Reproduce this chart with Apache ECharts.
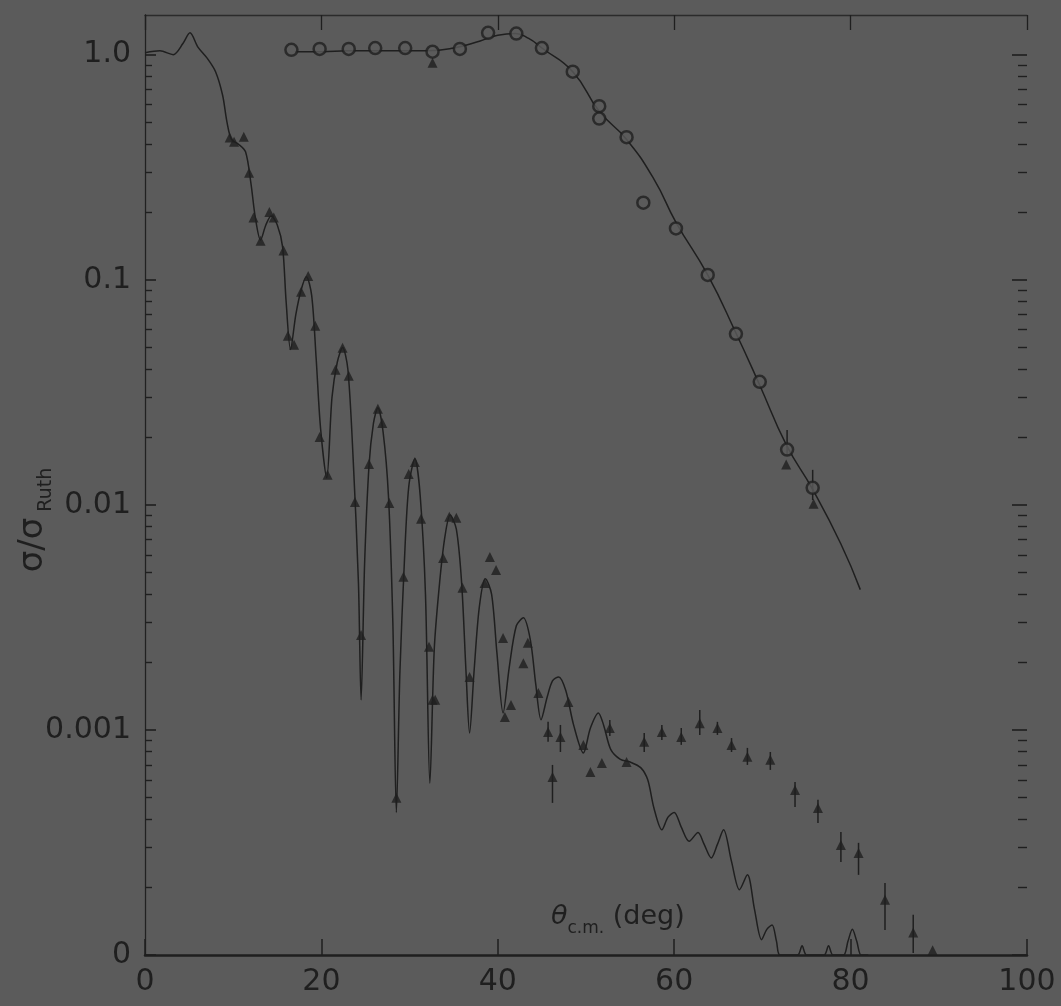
<!DOCTYPE html>
<html>
<head>
<meta charset="utf-8">
<script src="https://cdn.jsdelivr.net/npm/echarts@6/dist/echarts.min.js"></script>
<style>
  html, body { margin: 0; padding: 0; background: #5b5b5b; }
  #chart { width: 1061px; height: 1006px; }
</style>
</head>
<body>
<div id="chart"></div>
<script>
// sigma / sigma_Ruth versus centre-of-mass angle, log scale

const xTicks = [0, 20, 40, 60, 80, 100];
const yTickValues = [1e-4, 1e-3, 1e-2, 1e-1, 1];
const yTickLabels = ['0', '0.001', '0.01', '0.1', '1.0'];
const Y_MIN = 1e-4;
const Y_MAX = 1.5;

// open-circle data set [angle, ratio]
const circlePoints = [
  [16.6, 1.05], [19.8, 1.06], [23.1, 1.06], [26.1, 1.07], [29.5, 1.07],
  [32.6, 1.03], [35.7, 1.06], [38.9, 1.25], [42.1, 1.24], [45.0, 1.07],
  [48.5, 0.84], [51.5, 0.59], [51.5, 0.52], [54.6, 0.43], [56.5, 0.22],
  [60.2, 0.169], [63.8, 0.105], [67.0, 0.0575], [69.7, 0.0352],
  [72.8, 0.0176], [75.7, 0.0119]
];

// calculation through the open circles
const circleFit = [
  [17, 1.03], [20, 1.03], [23, 1.04], [26, 1.04], [29, 1.04], [32, 1.04],
  [35, 1.07], [38, 1.15], [40, 1.22], [42, 1.24], [43.5, 1.18], [45, 1.07],
  [48.5, 0.84], [51.5, 0.56], [54.6, 0.42], [57.7, 0.28], [60.2, 0.18],
  [63.8, 0.105], [67.0, 0.058], [69.7, 0.034], [72.7, 0.0185],
  [75.7, 0.0117], [78.9, 0.0067], [81.1, 0.0042]
];

const circleErrAngle = [72.8, 75.7];
const circleErrLow = [0.0167, 0.0105];
const circleErrHigh = [0.0215, 0.0143];

// filled-triangle data set [angle, ratio]
const trianglePoints = [
  [9.6, 0.428], [10.1, 0.41], [11.2, 0.432], [11.8, 0.299], [12.3, 0.189],
  [13.1, 0.149], [14.1, 0.2], [14.6, 0.189], [15.7, 0.135], [16.2, 0.0564],
  [16.9, 0.0514], [17.7, 0.0885], [18.5, 0.104], [19.3, 0.0625], [19.8, 0.020],
  [20.7, 0.0136], [21.6, 0.0398], [22.4, 0.0499], [23.1, 0.0374], [23.8, 0.0103],
  [24.5, 0.00264], [25.4, 0.0152], [26.4, 0.0267], [26.9, 0.0231], [27.7, 0.0102],
  [28.5, 0.000499], [29.3, 0.00479], [29.9, 0.0137], [30.6, 0.0155], [31.3, 0.00867],
  [32.2, 0.00234], [32.6, 0.00136], [32.9, 0.00136], [33.8, 0.00581], [34.5, 0.00885],
  [35.3, 0.00875], [36.0, 0.00428], [36.8, 0.00172], [38.5, 0.0045], [39.1, 0.00587],
  [39.8, 0.00514], [40.6, 0.00256], [40.8, 0.00114], [41.5, 0.00129], [42.9, 0.00198],
  [43.4, 0.00244], [44.6, 0.00146], [45.7, 0.00098], [46.2, 0.000618], [47.1, 0.00093],
  [48.0, 0.00133], [49.7, 0.000858], [50.5, 0.00065], [51.8, 0.000713], [52.7, 0.00102],
  [54.6, 0.000721], [56.6, 0.000885], [58.6, 0.00098], [60.8, 0.00093], [62.9, 0.00107],
  [64.9, 0.00102], [66.5, 0.000858], [68.3, 0.000759], [70.9, 0.000736], [73.7, 0.000541],
  [76.3, 0.00045], [78.9, 0.000308], [80.9, 0.000284], [83.9, 0.000176], [87.1, 0.000126],
  [89.3, 0.000105]
];

// other filled points near the open circles
const extraFilled = [[32.6, 0.92], [72.7, 0.0151], [75.8, 0.0101]];

const triangleErrAngle = [45.7, 46.2, 47.1, 52.7, 56.6, 58.6, 60.8, 62.9, 64.9,
  66.5, 68.3, 70.9, 73.7, 76.3, 78.9, 80.9, 83.9, 87.1];
const triangleErrLow = [8.85e-4, 4.74e-4, 7.98e-4, 9.4e-4, 7.98e-4, 9.03e-4, 8.58e-4,
  9.5e-4, 9.5e-4, 7.98e-4, 6.99e-4, 6.64e-4, 4.55e-4, 3.86e-4, 2.59e-4, 2.27e-4,
  1.29e-4, 1.02e-4];
const triangleErrHigh = [1.086e-3, 6.99e-4, 1.052e-3, 1.107e-3, 9.7e-4, 1.052e-3, 1.02e-3,
  1.227e-3, 1.086e-3, 9.2e-4, 8.32e-4, 7.98e-4, 5.87e-4, 4.89e-4, 3.52e-4, 3.15e-4,
  2.09e-4, 1.51e-4];

// oscillating calculation through the triangles
const triangleFit = [
  [0.0, 1.02], [1.7, 1.04], [3.2, 1.0], [4.3, 1.12], [5.1, 1.25], [6.0, 1.08],
  [7.0, 0.97], [8.0, 0.84], [8.8, 0.66], [9.3, 0.50], [9.8, 0.42], [10.6, 0.40],
  [11.4, 0.37], [12.0, 0.27], [12.5, 0.19], [13.1, 0.150], [13.7, 0.175], [14.3, 0.192],
  [15.0, 0.175], [15.6, 0.14], [16.0, 0.08], [16.5, 0.049], [17.1, 0.07], [17.7, 0.090],
  [18.3, 0.103], [18.9, 0.085], [19.4, 0.045], [19.9, 0.022], [20.6, 0.0132],
  [21.2, 0.030], [21.8, 0.043], [22.4, 0.050], [23.0, 0.040], [23.6, 0.016],
  [24.2, 0.0045], [24.5, 0.00136], [24.9, 0.0055], [25.4, 0.015], [25.9, 0.023],
  [26.4, 0.027], [27.0, 0.021], [27.6, 0.011], [28.1, 0.0030], [28.5, 0.00043],
  [28.9, 0.0018], [29.4, 0.0055], [29.9, 0.012], [30.6, 0.016], [31.2, 0.011],
  [31.8, 0.0040], [32.3, 0.00058], [32.8, 0.0023], [33.4, 0.0045], [34.0, 0.0072],
  [34.6, 0.0090], [35.3, 0.0078], [35.9, 0.0045], [36.4, 0.0018], [36.8, 0.00097],
  [37.3, 0.0018], [37.9, 0.0035], [38.6, 0.0047], [39.3, 0.0040], [39.9, 0.0022],
  [40.6, 0.00119], [41.3, 0.0019], [42.1, 0.0029], [42.9, 0.00315], [43.7, 0.0025],
  [44.3, 0.0016], [44.9, 0.00111], [45.6, 0.0014], [46.2, 0.00165], [46.9, 0.00172],
  [47.7, 0.0015], [48.6, 0.00105], [49.7, 0.00079], [50.5, 0.00102], [51.4, 0.00119],
  [52.0, 0.00105], [52.8, 0.00082], [53.9, 0.00074], [55.0, 0.00072], [56.2, 0.00068],
  [57.0, 0.00060], [57.7, 0.00045], [58.6, 0.00036], [59.3, 0.00041], [60.0, 0.00043],
  [60.8, 0.00037], [61.7, 0.00032], [62.7, 0.00035], [63.4, 0.00031], [64.2, 0.00027],
  [64.9, 0.00031], [65.6, 0.00036], [66.5, 0.00026], [67.4, 0.000195], [68.3, 0.000227],
  [69.1, 0.00016], [69.9, 0.000117], [70.5, 0.00013], [71.1, 0.000136], [71.6, 0.000115],
  [72.0, 0.0001], [74.0, 0.0001], [74.5, 0.00011], [75.0, 0.0001], [77.0, 0.0001],
  [77.5, 0.00011], [78.0, 0.0001], [79.2, 0.0001], [79.7, 0.000115], [80.2, 0.00013],
  [80.7, 0.000115], [81.2, 0.0001], [82.0, 0.0001]
];

const INK = '#1f1f1f';
const BG = '#5b5b5b';
const FONT = '"DejaVu Sans", sans-serif';

const chart = echarts.init(document.getElementById('chart'));

// layout of the plotting frame
const frameTop = 15, frameBottom = 51, frameLeft = 145, frameRight = 34;
const frameH = 1006 - frameTop - frameBottom;
const decadeTop = frameTop + frameH * Math.log10(Y_MAX) /
  (Math.log10(Y_MAX) - Math.log10(Y_MIN));

function yLabel(v) {
  for (let i = 0; i < yTickValues.length; i++) {
    if (Math.abs(Math.log10(v) - Math.log10(yTickValues[i])) < 1e-6) return yTickLabels[i];
  }
  return '';
}

function errorBars(params, api) {
  const lo = api.coord([api.value(0), api.value(1)]);
  const hi = api.coord([api.value(0), api.value(2)]);
  return {
    type: 'line',
    shape: { x1: lo[0], y1: lo[1], x2: hi[0], y2: hi[1] },
    style: { stroke: INK, lineWidth: 1.5 }
  };
}

// decade axis (1e-4 .. 1) used for tick marks on both sides
function decadeTicks(side, major, minor) {
  return {
    gridIndex: 1, type: 'log', logBase: 10, min: Y_MIN, max: 1, position: side,
    axisLine: { show: false },
    axisTick: { show: true, inside: true, length: major, lineStyle: { color: INK, width: 1.6 } },
    minorTick: { show: true, splitNumber: 9, length: minor, lineStyle: { color: INK, width: 1.4 } },
    axisLabel: { show: false },
    splitLine: { show: false }, minorSplitLine: { show: false }
  };
}

chart.setOption({
  backgroundColor: BG,
  animation: false,
  grid: [
    { left: frameLeft, right: frameRight, top: frameTop, bottom: frameBottom },
    { left: frameLeft, right: frameRight, top: decadeTop, bottom: frameBottom }
  ],
  xAxis: [
    {
      gridIndex: 0, type: 'value', position: 'bottom', min: 0, max: 100, interval: 20,
      axisLine: { lineStyle: { color: INK, width: 2.5 } },
      axisTick: { inside: true, length: 16, lineStyle: { color: INK, width: 1.5 } },
      axisLabel: {
        margin: 12, color: INK, fontFamily: FONT, fontSize: 30,
        formatter: v => (xTicks.indexOf(v) >= 0 ? String(v) : '')
      },
      splitLine: { show: false }
    },
    {
      gridIndex: 0, type: 'value', position: 'top', min: 0, max: 100, interval: 20,
      axisLine: { lineStyle: { color: INK, width: 1.3, opacity: 0.8 } },
      axisTick: { inside: true, length: 15, lineStyle: { color: INK, width: 1.3 } },
      axisLabel: { show: false },
      splitLine: { show: false }
    },
    {
      gridIndex: 1, type: 'value', min: 0, max: 100, show: false
    }
  ],
  yAxis: [
    {
      gridIndex: 0, type: 'log', logBase: 10, min: Y_MIN, max: Y_MAX, position: 'left',
      axisLine: { show: true, lineStyle: { color: INK, width: 1, opacity: 0.75 } },
      axisTick: { show: false }, axisLabel: { show: false }, splitLine: { show: false }
    },
    {
      gridIndex: 0, type: 'log', logBase: 10, min: Y_MIN, max: Y_MAX, position: 'right',
      axisLine: { show: true, lineStyle: { color: INK, width: 1.3, opacity: 0.85 } },
      axisTick: { show: false }, axisLabel: { show: false }, splitLine: { show: false }
    },
    // decade labels on the left
    {
      gridIndex: 1, type: 'log', logBase: 10, min: Y_MIN, max: 1, position: 'left',
      axisLine: { show: false }, axisTick: { show: false }, minorTick: { show: false },
      axisLabel: { margin: 14, color: INK, fontFamily: FONT, fontSize: 30, formatter: yLabel },
      splitLine: { show: false }
    },
    decadeTicks('left', 11, 7),
    decadeTicks('right', 15, 9)
  ],
  graphic: [
    {
      type: 'text', x: 36, y: 520, rotation: Math.PI / 2,
      style: {
        text: '{a|σ/σ}{b| Ruth}', align: 'center', verticalAlign: 'middle', fill: INK,
        rich: {
          a: { fontFamily: FONT, fontSize: 34, fill: INK, verticalAlign: 'top', lineHeight: 40 },
          b: { fontFamily: FONT, fontSize: 19, fill: INK, verticalAlign: 'bottom', lineHeight: 40 }
        }
      }
    },
    {
      type: 'text', x: 551, y: 920,
      style: {
        text: '{t|θ}{s|c.m.}{d| (deg)}', align: 'left', verticalAlign: 'middle', fill: INK,
        rich: {
          t: { fontFamily: FONT, fontSize: 27, fontStyle: 'italic', fill: INK, verticalAlign: 'top', lineHeight: 34 },
          s: { fontFamily: FONT, fontSize: 17, fill: INK, verticalAlign: 'bottom', lineHeight: 34 },
          d: { fontFamily: FONT, fontSize: 27, fill: INK, verticalAlign: 'top', lineHeight: 34 }
        }
      }
    }
  ],
  series: [
    {
      type: 'line', xAxisIndex: 0, yAxisIndex: 0, data: triangleFit,
      smooth: 0.3, showSymbol: false, lineStyle: { color: INK, width: 1.5 }, z: 2
    },
    {
      type: 'line', xAxisIndex: 0, yAxisIndex: 0, data: circleFit,
      smooth: 0.5, showSymbol: false, lineStyle: { color: INK, width: 1.5 }, z: 2
    },
    {
      type: 'custom', xAxisIndex: 0, yAxisIndex: 0, renderItem: errorBars,
      encode: { x: 0, y: [1, 2] }, z: 3,
      data: triangleErrAngle.map((a, i) => [a, triangleErrLow[i], triangleErrHigh[i]])
    },
    {
      type: 'custom', xAxisIndex: 0, yAxisIndex: 0, renderItem: errorBars,
      encode: { x: 0, y: [1, 2] }, z: 3,
      data: circleErrAngle.map((a, i) => [a, circleErrLow[i], circleErrHigh[i]])
    },
    {
      type: 'scatter', xAxisIndex: 0, yAxisIndex: 0, data: trianglePoints,
      symbol: 'triangle', symbolSize: 10, itemStyle: { color: INK }, z: 4
    },
    {
      type: 'scatter', xAxisIndex: 0, yAxisIndex: 0, data: extraFilled,
      symbol: 'triangle', symbolSize: 10, itemStyle: { color: INK }, z: 4
    },
    {
      type: 'scatter', xAxisIndex: 0, yAxisIndex: 0, data: circlePoints,
      symbol: 'circle', symbolSize: 12,
      itemStyle: { color: BG, borderColor: INK, borderWidth: 2.5 }, z: 5
    }
  ]
});
</script>
</body>
</html>
